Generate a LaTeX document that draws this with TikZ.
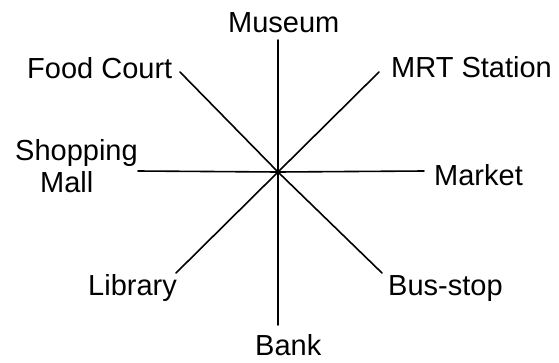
\documentclass[tikz,border=0pt]{standalone}
\usepackage{fontspec}
\setmainfont{Liberation Sans}
\newcommand{\placefont}{\fontsize{29}{31}\selectfont}
\tikzset{
  place/.style={anchor=base west, inner sep=0pt, font=\placefont},
  spoke/.style={line width=1.6pt, line cap=round}
}
\begin{document}
\begin{tikzpicture}[x=1pt, y=-1pt]
  \useasboundingbox (0,0) rectangle (559,362);

  % -- Place names --
  \node[place] (museum)   at (228, 32)  {Museum};
  \node[place] (food)     at (27, 78)   {Food Court};
  \node[place] (mrt)      at (391, 77)  {MRT Station};
  \node[place] (shopping) at (15, 160)  {Shopping};
  \node[place] (mall)     at (40, 192)  {Mall};
  \node[place] (market)   at (434, 185) {Market};
  \node[place] (library)  at (88, 295)  {Library};
  \node[place] (busstop)  at (388, 295) {Bus-stop};
  \node[place] (bank)     at (255, 355) {Bank};

  % -- Spoke ends --
  \coordinate (c)  at (278, 172);
  \coordinate (n)  at (278, 40);
  \coordinate (s)  at (278, 325);
  \coordinate (w)  at (138, 171);
  \coordinate (e)  at (424, 171);
  \coordinate (nw) at (180, 72);
  \coordinate (ne) at (379, 72);
  \coordinate (sw) at (176, 273);
  \coordinate (se) at (382, 273);

  % -- Spokes --
  \foreach \p in {n, s, w, e, nw, ne, sw, se}
    \draw[spoke] (c) -- (\p);

\end{tikzpicture}
\end{document}
